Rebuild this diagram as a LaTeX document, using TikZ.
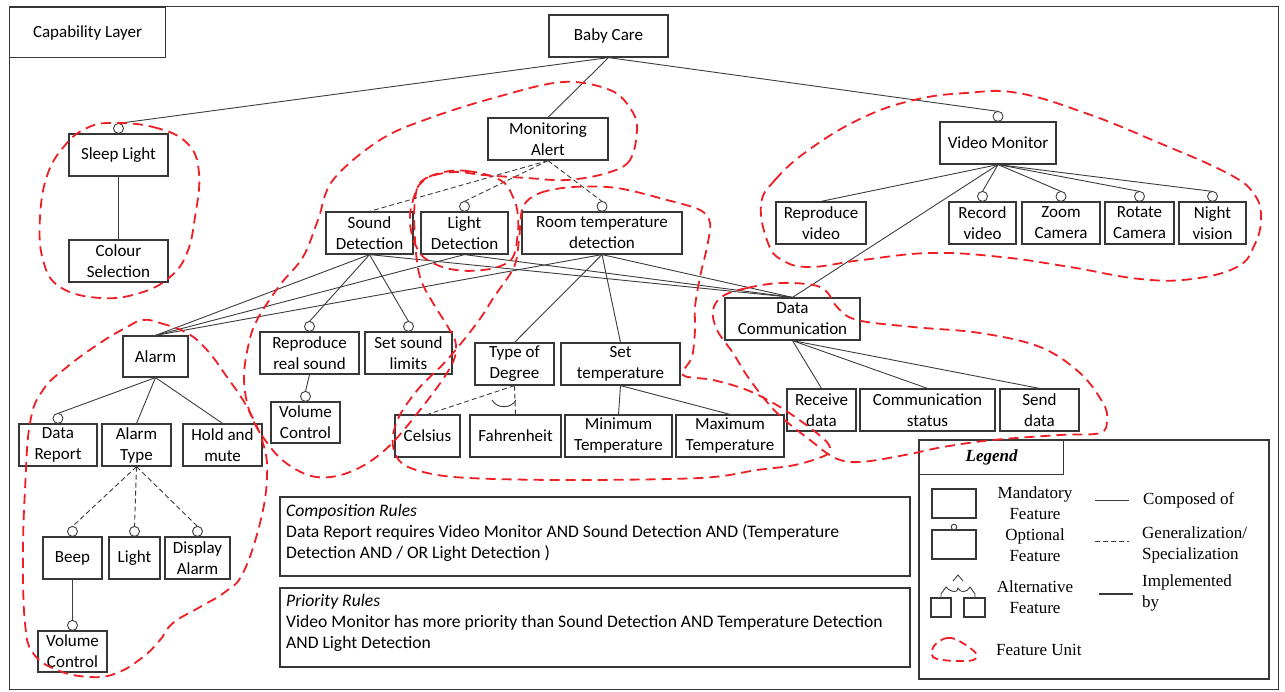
\documentclass[tikz,border=0pt]{standalone}
\usepackage{fontspec}
\setmainfont{Carlito}
\newfontfamily\legfont{Liberation Serif}
\definecolor{boxc}{RGB}{55,55,55}
\definecolor{linec}{RGB}{60,60,60}
\definecolor{unitred}{RGB}{238,30,36}
\newcommand\optcirc[1]{\draw[conn,fill=white] ([yshift=5pt]#1.north) circle (5pt);}
\newcommand\optco[1]{\coordinate (#1-o) at ([yshift=10pt]#1.north);}
\begin{document}
\begin{tikzpicture}[x=1pt,y=-1pt,
  every node/.style={font=\fontsize{17}{21}\selectfont},
  fbox/.style={draw=boxc, line width=1.2pt, minimum height=42pt, inner sep=0pt, align=center},
  conn/.style={draw=linec, line width=0.9pt},
  gconn/.style={conn, dash pattern=on 5pt off 3pt},
  unit/.style={draw=unitred, line width=1.8pt, dash pattern=on 10pt off 6pt},
  legtext/.style={font=\legfont\fontsize{17}{21}\selectfont, inner sep=0pt},
  ruletext/.style={anchor=north west, inner sep=0pt, align=left, font=\fontsize{17.6}{21}\selectfont}]
\useasboundingbox (0,0) rectangle (1285,692);
\draw[boxc, line width=1pt] (9,7) rectangle (1278,689);
\node[draw=boxc, line width=1pt, minimum width=156pt, minimum height=50pt, anchor=north west, inner sep=0pt] (cap) at (9,7) {Capability Layer};

% feature nodes
\node[fbox, minimum width=119pt] (bc) at (608.5,36) {Baby Care};
\node[fbox, minimum width=99pt] (sl) at (118.5,155) {Sleep Light};
\node[fbox, minimum width=99pt] (cs) at (118.5,261) {Colour\\Selection};
\node[fbox, minimum width=120pt] (ma) at (548,139) {Monitoring\\Alert};
\node[fbox, minimum width=116pt] (vm) at (998,143) {Video Monitor};
\node[fbox, minimum width=90pt] (rv) at (821,223) {Reproduce\\video};
\node[fbox, minimum width=67pt] (rec) at (982.5,223) {Record\\video};
\node[fbox, minimum width=78pt] (zc) at (1061,223) {Zoom\\Camera};
\node[fbox, minimum width=69pt] (rc) at (1139.5,223) {Rotate\\Camera};
\node[fbox, minimum width=67pt] (nv) at (1212.5,223) {Night\\vision};
\node[fbox, minimum width=87pt] (sd) at (369.5,233) {Sound\\Detection};
\node[fbox, minimum width=87pt] (ld) at (464.5,233) {Light\\Detection};
\node[fbox, minimum width=160pt] (rt) at (602,233) {Room temperature\\detection};
\node[fbox, minimum width=135pt] (dc) at (792.5,319) {Data\\Communication};
\node[fbox, minimum width=69pt] (rd) at (821.5,410) {Receive\\data};
\node[fbox, minimum width=135pt] (cst) at (927.5,410) {Communication\\status};
\node[fbox, minimum width=79pt] (snd) at (1039.5,410) {Send\\data};
\node[fbox, minimum width=65pt, minimum height=41pt] (al) at (155.5,356.5) {Alarm};
\node[fbox, minimum width=78pt] (dr) at (58,445) {Data\\Report};
\node[fbox, minimum width=69pt] (at) at (136.5,445) {Alarm\\Type};
\node[fbox, minimum width=79pt] (hm) at (222.5,445) {Hold and\\mute};
\node[fbox, minimum width=59pt] (bp) at (72.5,558) {Beep};
\node[fbox, minimum width=51pt] (li) at (134.5,558) {Light};
\node[fbox, minimum width=65pt] (da) at (197.5,558) {Display\\Alarm};
\node[fbox, minimum width=69pt, minimum height=41pt] (vca) at (72.5,651.5) {Volume\\Control};
\node[fbox, minimum width=99pt] (rrs) at (309.5,353) {Reproduce\\real sound};
\node[fbox, minimum width=87pt] (ssl) at (408.5,353) {Set sound\\limits};
\node[fbox, minimum width=69pt, minimum height=41pt] (vcb) at (305.5,422.5) {Volume\\Control};
\node[fbox, minimum width=79pt] (td) at (514.5,364) {Type of\\Degree};
\node[fbox, minimum width=119pt] (st) at (620.5,364) {Set\\temperature};
\node[fbox, minimum width=65pt] (ce) at (427.5,436) {Celsius};
\node[fbox, minimum width=91pt] (fa) at (515.5,436) {Fahrenheit};
\node[fbox, minimum width=107pt] (mint) at (618.5,436) {Minimum\\Temperature};
\node[fbox, minimum width=108pt] (maxt) at (730,436) {Maximum\\Temperature};

% circle tops
\foreach \n in {sl,vm,rec,zc,rc,nv,ld,rt,dr,bp,li,da,vca,rrs,ssl,vcb} {\optco{\n}}

% composed-of connectors
\draw[conn] (bc.south) -- (sl-o);
\draw[conn] (bc.south) -- (ma.north);
\draw[conn] (bc.south) -- (vm-o);
\draw[conn] (sl.south) -- (cs.north);
\foreach \t in {rec-o,zc-o,rc-o,nv-o,rv.north,dc.north} {\draw[conn] (vm.south) -- (\t);}
\foreach \t in {al.north,rrs-o,ssl-o,dc.north} {\draw[conn] (sd.south) -- (\t);}
\foreach \t in {al.north,dc.north} {\draw[conn] (ld.south) -- (\t);}
\foreach \t in {al.north,dc.north,td.north,st.north} {\draw[conn] (rt.south) -- (\t);}
\foreach \t in {rd.north,cst.north,snd.north} {\draw[conn] (dc.south) -- (\t);}
\foreach \t in {dr-o,at.north,hm.north} {\draw[conn] (al.south) -- (\t);}
\draw[conn] (bp.south) -- (vca-o);
\draw[conn] (rrs.south) -- (vcb-o);
\draw[conn] (st.south) -- (mint.north);
\draw[conn] (st.south) -- (maxt.north);
% generalization connectors
\draw[gconn] (ma.south) -- (sd.north);
\draw[gconn] (ma.south) -- (ld-o);
\draw[gconn] (ma.south) -- (rt-o);
\foreach \t in {bp-o,li-o,da-o} {\draw[gconn] (at.south) -- (\t);}
\draw[gconn] (td.south) -- (ce.north);
\draw[gconn] (td.south) -- (fa.north);
\draw[conn] (492,400) .. controls (497,409) and (511,409) .. (516,400);

\foreach \n in {sl,vm,rec,zc,rc,nv,ld,rt,dr,bp,li,da,vca,rrs,ssl,vcb} {\optcirc{\n}}

% rules
\draw[boxc, line width=1.2pt] (280,497) rectangle (910,576);
\node[ruletext] (comp) at (286,504) {\textit{Composition Rules}\\Data Report requires Video Monitor AND Sound Detection AND (Temperature\\Detection AND / OR Light Detection )};
\draw[boxc, line width=1.2pt] (280,588) rectangle (910,667);
\node[ruletext] (prio) at (286,594) {\textit{Priority Rules}\\Video Monitor has more priority than Sound Detection AND Temperature Detection\\AND Light Detection};

% legend
\draw[boxc, line width=1.2pt] (919,440) rectangle (1269,679);
\node[draw=boxc, line width=1.2pt, minimum width=144pt, minimum height=34pt, anchor=north west, inner sep=0pt, font=\legfont\fontsize{17}{21}\selectfont\bfseries\itshape] (legt) at (919,440) {Legend};
\draw[boxc, line width=1.1pt] (932,489) rectangle (976,518);
\draw[boxc, line width=1.1pt] (932,530) rectangle (976,559);
\draw[conn, fill=white] (954,527) circle (2.8pt);
\draw[boxc, line width=1.1pt] (931,598) rectangle (951,617);
\draw[boxc, line width=1.1pt] (964,598) rectangle (985,617);
\draw[conn] (941,598) -- (941,594) -- (946,587) .. controls (951,593) and (958,593) .. (958,588) .. controls (960,593) and (967,593) .. (970,587) -- (975,594) -- (975,598);
\draw[conn] (953,581) -- (958,575) -- (963,581);
\node[legtext, align=center] (lm) at (1035,503) {Mandatory\\Feature};
\node[legtext, align=center] (lo) at (1035,545) {Optional\\Feature};
\node[legtext, align=center] (la) at (1035,597) {Alternative\\Feature};
\node[legtext, anchor=west] (lf) at (996,650) {Feature Unit};
\draw[conn] (1095,500) -- (1129,500);
\draw[gconn] (1095,541) -- (1129,541);
\draw[boxc, line width=2.6pt] (1099,594) -- (1133,594);
\node[legtext, anchor=west] (lc) at (1143,500) {Composed of};
\node[legtext, anchor=west, align=left] (lg) at (1142,545) {Generalization/\\Specialization};
\node[legtext, anchor=west, align=left] (li2) at (1142,593) {Implemented\\by};
\draw[unit, dash pattern=on 8pt off 5pt] plot[smooth cycle, tension=0.7] coordinates {(937,643) (947,638) (957,640) (970,648) (977,655) (973,660) (960,661) (943,660) (933,657) (932,650)};

% feature units
\draw[unit] plot[smooth cycle, tension=0.7] coordinates {(110,123) (153,127) (187,143) (199,173) (195,217) (187,253) (170,277) (140,293) (100,298) (60,287) (43,260) (40,217) (48,173) (67,143) (87,128)};
\draw[unit] plot[smooth cycle, tension=0.6] coordinates {(637,128) (630,160) (607,173) (567,180) (527,178) (483,175) (453,172) (423,180) (415,200) (415,240) (420,277) (433,303) (448,327) (456,345) (450,368) (420,410) (385,450) (350,472) (316,477) (286,463) (265,440) (250,413) (244,380) (248,347) (257,320) (280,285) (303,257) (318,220) (333,180) (380,140) (430,118) (497,97) (563,82) (610,90) (630,108)};
\draw[unit] plot[smooth cycle, tension=0.7] coordinates {(440,173) (467,171) (500,180) (513,197) (518,217) (517,240) (513,257) (503,265) (483,270) (456,270) (433,263) (418,250) (410,223) (414,197) (422,182)};
\draw[unit] plot[smooth cycle, tension=0.55] coordinates {(523,207) (540,193) (573,187) (617,188) (667,200) (700,210) (710,223) (707,247) (700,277) (695,307) (695,330) (692,357) (683,375) (713,380) (747,390) (780,407) (813,430) (829,445) (826,455) (795,465) (757,470) (700,478) (560,480) (454,477) (408,467) (395,453) (393,435) (401,413) (420,387) (447,360) (477,323) (494,297) (514,267) (519,240)};
\draw[unit] plot[smooth cycle, tension=0.6] coordinates {(723,296) (747,288) (780,283) (813,285) (827,292) (837,307) (857,320) (913,327) (980,333) (1040,347) (1080,373) (1103,403) (1107,420) (1100,433) (1060,435) (993,440) (943,447) (905,455) (860,462) (835,458) (810,440) (777,413) (750,380) (733,353) (717,330) (713,310)};
\draw[unit] plot[smooth cycle, tension=0.7] coordinates {(761,205) (775,180) (810,149) (862,118) (914,100) (966,93) (1018,93) (1088,114) (1157,142) (1227,173) (1254,194) (1261,219) (1254,246) (1237,267) (1192,279) (1140,279) (1070,267) (1001,257) (931,253) (862,260) (810,267) (782,260) (768,243)};
\draw[unit] plot[smooth cycle, tension=0.7] coordinates {(143,320) (160,323) (187,333) (207,350) (227,377) (247,407) (263,443) (267,477) (260,523) (243,573) (225,592) (200,607) (173,623) (160,640) (143,657) (117,673) (90,677) (57,670) (33,653) (25,623) (23,557) (25,490) (30,423) (43,390) (67,367) (100,343) (127,327)};
\end{tikzpicture}
\end{document}
